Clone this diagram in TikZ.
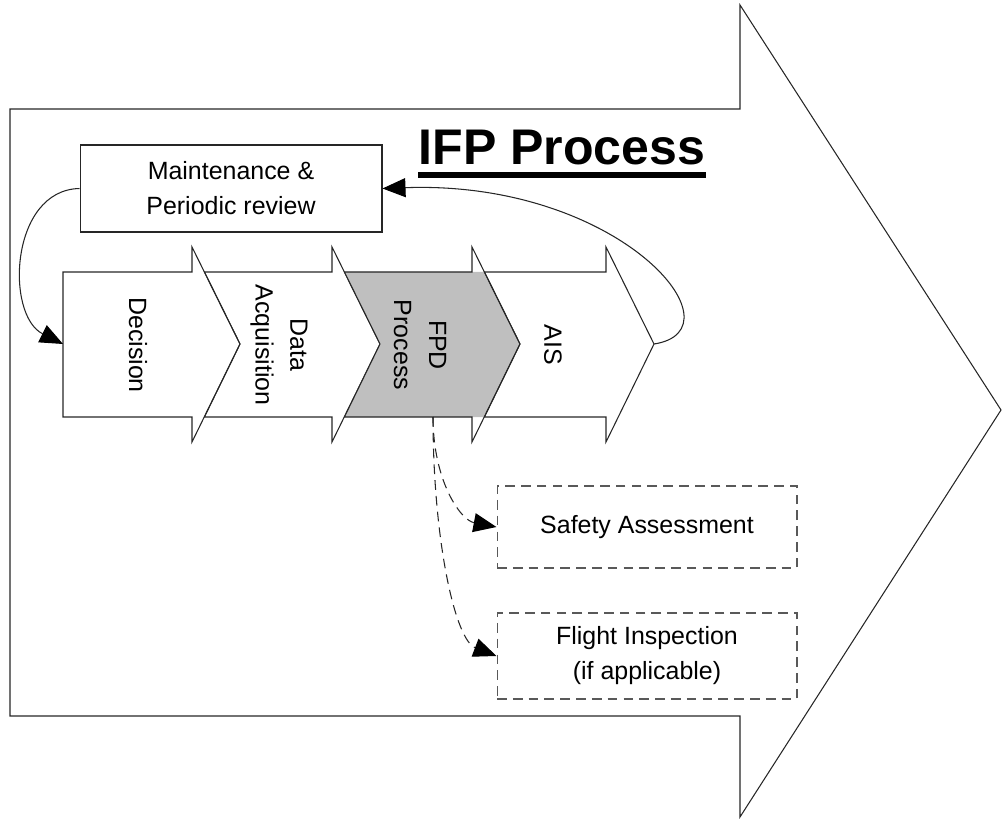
\documentclass[tikz,border=0pt]{standalone}
\usepackage{fontspec}
\setmainfont{Liberation Sans}
\usetikzlibrary{arrows.meta,positioning,calc}

\begin{document}
\begin{tikzpicture}[x=0.02cm, y=-0.02cm,
    thinline/.style={line width=0.6pt, draw=black!85},
    fpdfill/.style={fill=black!25},
    txt/.style={font=\fontsize{14.2}{19.9}\selectfont, align=center, inner sep=0pt},
    boxnode/.style={txt, draw=black!85, line width=0.6pt, minimum width=6cm},
    dashbox/.style={boxnode, draw=black!65, dash pattern=on 5.5pt off 3.5pt},
    arr/.style={thinline, -{Triangle[length=0.46cm, width=0.38cm, color=black]}},
    dasharr/.style={arr, dash pattern=on 5.5pt off 3.5pt}]
    \useasboundingbox (0,0) rectangle (1003,820);

    % --- big process arrow ---
    \draw[thinline] (10,109) -- (740,109) -- (740,5) -- (1001,410) -- (740,817)
      -- (740,716) -- (10,716) -- cycle;
    \node[inner sep=0pt, anchor=base, font=\fontsize{28.5}{34}\selectfont\bfseries]
      (title) at (562,165) {IFP Process};
    \draw[line width=3.7pt] ($(title.base west)+(0,10)$) -- ($(title.base east)+(0,10)$);

    % --- chevrons ---
    \draw[thinline] (63,272) -- (192,272) -- (192,247) -- (240,344) -- (192,442)
      -- (192,417) -- (63,417) -- cycle;
    \node[txt, rotate=-90] (decision) at (138,345) {Decision};

    \draw[thinline] (204.4,272) -- (332,272) -- (332,247) -- (380,344) -- (332,442)
      -- (332,417) -- (204.4,417) -- (240,344) -- cycle;
    \node[txt, rotate=-90] (data) at (279,345) {Data\\Acquisition};

    \fill[fpdfill] (344.4,272) -- (484.4,272) -- (520,344) -- (484.4,417)
      -- (344.4,417) -- (380,344) -- cycle;
    \draw[thinline] (344.4,272) -- (472,272) -- (472,247) -- (520,344) -- (472,442)
      -- (472,417) -- (344.4,417) -- (380,344) -- cycle;
    \node[txt, rotate=-90] (fpd) at (420,345) {FPD\\Process};

    \draw[thinline] (484.4,272) -- (606,272) -- (606,247) -- (654,344) -- (606,442)
      -- (606,417) -- (484.4,417) -- (520,344) -- cycle;
    \node[txt, rotate=-90] (ais) at (553,345) {AIS};

    \coordinate (dectail) at (63,344);
    \coordinate (aistip) at (654,344);
    \coordinate (fpdfoot) at (433,417);

    % --- review loop ---
    \node[boxnode, minimum width=6.04cm, minimum height=1.74cm] (maint) at (231,188.5)
      {Maintenance \&\\Periodic review};
    \draw[arr] (aistip) .. controls (745,330) and (620,180) .. (maint.east);
    \draw[arr] (maint.west) .. controls (10,190) and (5,315) .. (dectail);

    % --- side activities ---
    \node[dashbox, minimum height=1.64cm] (safety) at (647,527) {Safety Assessment};
    \node[dashbox, minimum height=1.72cm] (flight) at (647,656)
      {Flight Inspection\\(if applicable)};
    \draw[dasharr] (fpdfoot) .. controls (433,480) and (460,520) .. (safety.west);
    \draw[dasharr] (fpdfoot) .. controls (433,540) and (455,640) .. (flight.west);
\end{tikzpicture}
\end{document}
